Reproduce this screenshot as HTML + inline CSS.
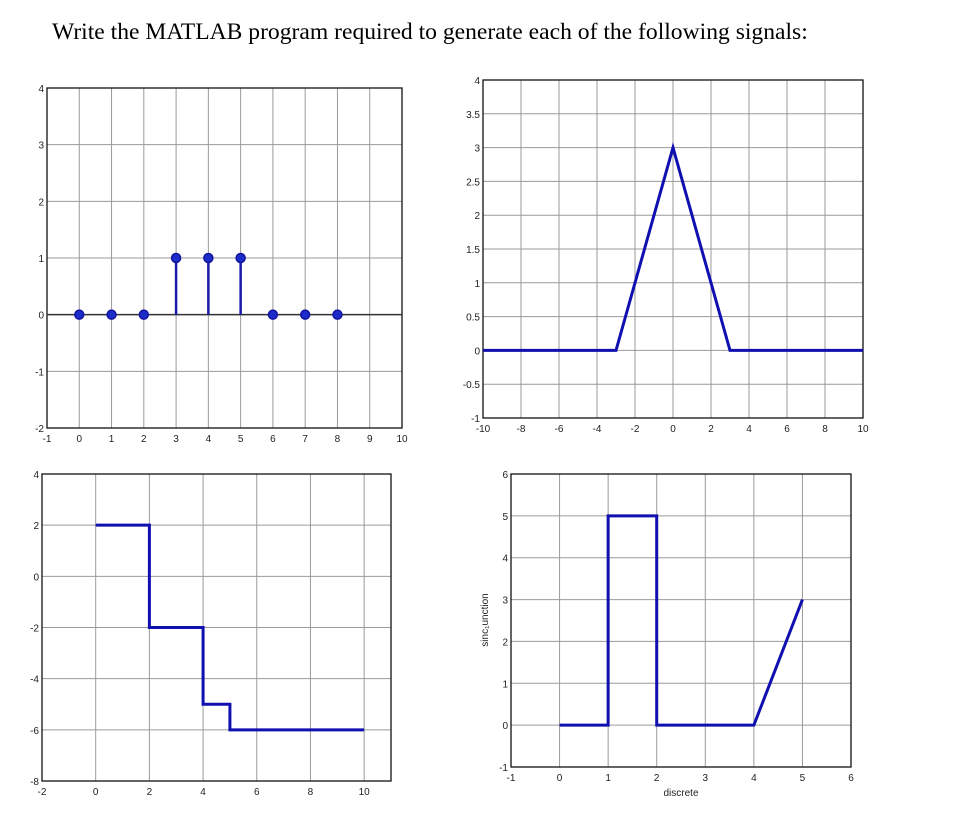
<!DOCTYPE html>
<html><head><meta charset="utf-8">
<style>
body{margin:0;background:#fff;width:954px;height:817px;overflow:hidden}
#title{position:absolute;left:52px;top:19px;font-family:"Liberation Serif",serif;font-size:23.6px;color:#000;white-space:nowrap}
svg{position:absolute;left:0;top:0}
</style></head>
<body>
<div id="title">Write the MATLAB program required to generate each of the following signals:</div>
<svg id="svg" width="954" height="817"></svg>
<script>
// Plot 1 (stem)
const p1X = [0,1,2,3,4,5,6,7,8];
const p1Y = [0,0,0,1,1,1,0,0,0];
const p1XTicks = [-1,0,1,2,3,4,5,6,7,8,9,10];
const p1YTicks = [-2,-1,0,1,2,3,4];
// Plot 2 (triangle)
const p2X = [-10,-3,0,3,10];
const p2Y = [0,0,3,0,0];
const p2XTicks = [-10,-8,-6,-4,-2,0,2,4,6,8,10];
const p2YTicks = [-1,-0.5,0,0.5,1,1.5,2,2.5,3,3.5,4];
// Plot 3 (staircase)
const p3X = [0,2,2,4,4,5,5,10];
const p3Y = [2,2,-2,-2,-5,-5,-6,-6];
const p3XTicks = [-2,0,2,4,6,8,10];
const p3YTicks = [-8,-6,-4,-2,0,2,4];
// Plot 4
const p4X = [0,1,1,2,2,4,5];
const p4Y = [0,0,5,5,0,0,3];
const p4XTicks = [-1,0,1,2,3,4,5,6];
const p4YTicks = [-1,0,1,2,3,4,5,6];

const NS="http://www.w3.org/2000/svg";
const svg=document.getElementById('svg');
function mk(tag,attrs,parent){const e=document.createElementNS(NS,tag);for(const k in attrs)e.setAttribute(k,attrs[k]);(parent||svg).appendChild(e);return e;}

function plot(name,box,xr,yr,xt,yt,xs,ys,kind){
  const g=mk('g',{});
  
  
  const sx=v=>box.l+(v-xr[0])/(xr[1]-xr[0])*(box.r-box.l);
  const sy=v=>box.b-(v-yr[0])/(yr[1]-yr[0])*(box.b-box.t);
  xt.forEach(v=>{
    const x=sx(v);
    const gl=mk('line',{x1:x,x2:x,y1:box.t,y2:box.b,stroke:'#9a9a9a','stroke-width':1},g);
    
    
    const t=mk('text',{x:x,y:box.b+14,'text-anchor':'middle','font-size':10,'font-family':'Liberation Sans, sans-serif',fill:'#222'},g);
    t.textContent=v;
    
    
  });
  yt.forEach(v=>{
    const y=sy(v);
    const gl=mk('line',{x1:box.l,x2:box.r,y1:y,y2:y,stroke:'#9a9a9a','stroke-width':1},g);
    
    
    const t=mk('text',{x:box.l-3,y:y+4,'text-anchor':'end','font-size':10,'font-family':'Liberation Sans, sans-serif',fill:'#222'},g);
    t.textContent=v;
    
    
  });
  const fr=mk('rect',{x:box.l,y:box.t,width:box.r-box.l,height:box.b-box.t,fill:'none',stroke:'#111','stroke-width':1.3},g);
  
  
  if(kind==='stem'){
    const bl=mk('line',{x1:box.l,x2:box.r,y1:sy(0),y2:sy(0),stroke:'#333','stroke-width':1.5},g);
    
    
    xs.forEach((v,i)=>{
      if(ys[i]!==0){
        const s=mk('line',{x1:sx(v),x2:sx(v),y1:sy(0),y2:sy(ys[i]),stroke:'#1a1aa8','stroke-width':2.5},g);
        
        
      }
      const c=mk('circle',{cx:sx(v),cy:sy(ys[i]),r:4.5,fill:'#1c2cc8',stroke:'#1414a0','stroke-width':1.5},g);
      
      
    });
  } else {
    const pts=xs.map((v,i)=>sx(v)+','+sy(ys[i])).join(' ');
    const pl=mk('polyline',{points:pts,fill:'none',stroke:'#1010b0','stroke-width':3,'stroke-linejoin':'miter'},g);
    
    
  }
  return g;
}
plot('stem-plot',{l:47,r:402,t:88,b:428},[-1,10],[-2,4],p1XTicks,p1YTicks,p1X,p1Y,'stem');
plot('triangle-plot',{l:483,r:863,t:80,b:418},[-10,10],[-1,4],p2XTicks,p2YTicks,p2X,p2Y,'line');
plot('staircase-plot',{l:42,r:391,t:474,b:781},[-2,11],[-8,4],p3XTicks,p3YTicks,p3X,p3Y,'line');
const g4=plot('sinc-plot',{l:511,r:851,t:474,b:767},[-1,6],[-1,6],p4XTicks,p4YTicks,p4X,p4Y,'line');
const xl=mk('text',{x:681,y:796,'text-anchor':'middle','font-size':10,'font-family':'Liberation Sans, sans-serif',fill:'#222'},g4);
xl.textContent='discrete';


const yl=mk('text',{x:0,y:0,'text-anchor':'middle','font-size':10,'font-family':'Liberation Sans, sans-serif',fill:'#222',transform:'translate(488,620) rotate(-90)'},g4);
yl.textContent='sinc\u2081unction';


</script>
</body></html>
